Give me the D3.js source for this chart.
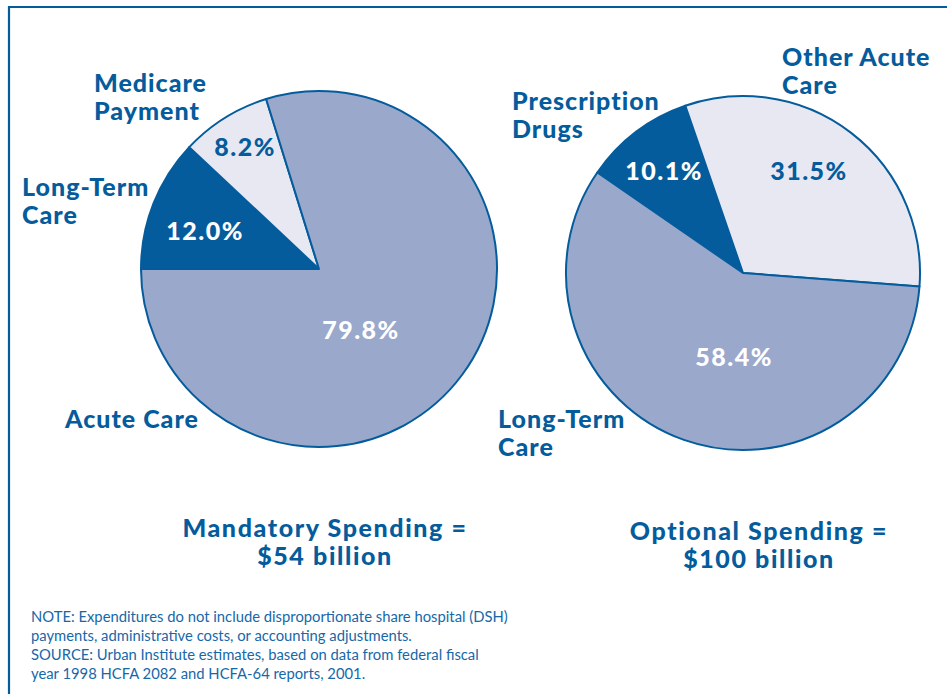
<!DOCTYPE html>
<html>
<head>
<meta charset="utf-8">
<script src="https://cdn.jsdelivr.net/npm/d3@7"></script>
<style>
  html, body { margin: 0; padding: 0; background: #ffffff; }
  svg { display: block; }
</style>
</head>
<body>
<svg id="chart" width="947" height="694"></svg>
<script>
// Medicaid spending shares, mandatory vs optional services
const mandatoryCategories = ["Long-Term Care", "Medicare Payment", "Acute Care"];
const mandatoryValues = [12.0, 8.2, 79.8];
const mandatoryTitle = ["Mandatory Spending =", "$54 billion"];

const optionalCategories = ["Prescription Drugs", "Other Acute Care", "Long-Term Care"];
const optionalValues = [10.1, 31.5, 58.4];
const optionalTitle = ["Optional Spending =", "$100 billion"];

const noteLines = [
  "NOTE: Expenditures do not include disproportionate share hospital (DSH)",
  "payments, administrative costs, or accounting adjustments.",
  "SOURCE: Urban Institute estimates, based on data from federal fiscal",
  "year 1998 HCFA 2082 and HCFA-64 reports, 2001."
];

// Styling
const DARK = "#045c9c";
const MID = "#9aa8cc";
const LIGHT = "#e8e8f3";
const FONT = "Lato, 'DejaVu Sans', sans-serif";

const svg = d3.select("#chart");

// frame
svg.append("path")
  .attr("d", "M9,700 L9,7 L960,7")
  .attr("fill", "none")
  .attr("stroke", DARK)
  .attr("stroke-width", 2.2);

function drawPie(cfg) {
  const pie = d3.pie().sort(null).value(d => d.value)
    .startAngle(cfg.start * Math.PI / 180)
    .endAngle(cfg.start * Math.PI / 180 + 2 * Math.PI);
  const arc = d3.arc().innerRadius(0).outerRadius(cfg.r);
  const data = cfg.categories.map((c, i) => ({ name: c, value: cfg.values[i] }));
  const g = svg.append("g").attr("transform", `translate(${cfg.cx},${cfg.cy})`);
  const arcs = pie(data);
  g.selectAll("path.slice").data(arcs).join("path")
    .attr("class", "slice")
    .attr("d", arc)
    .attr("fill", (d, i) => cfg.fills[i])
    .attr("stroke", DARK)
    .attr("stroke-width", 2)
    .attr("stroke-linejoin", "round");

  // value labels
  g.selectAll("text.val").data(arcs).join("text")
    .attr("class", "val")
    .attr("x", (d, i) => cfg.valPos[i][0] - cfg.cx)
    .attr("y", (d, i) => cfg.valPos[i][1] - cfg.cy)
    .attr("text-anchor", "middle")
    .attr("font-family", FONT)
    .attr("font-weight", 900)
    .attr("font-size", 25)
    .attr("letter-spacing", 1.5)
    .attr("fill", (d, i) => cfg.valColors[i])
    .text(d => d.data.value.toFixed(1) + "%");

  // category labels
  cfg.categories.forEach((c, i) => {
    const words = cfg.lines[i];
    const t = svg.append("text")
      .attr("x", cfg.catPos[i][0])
      .attr("y", cfg.catPos[i][1])
      .attr("font-family", FONT)
      .attr("font-weight", 900)
      .attr("font-size", 25)
      .attr("letter-spacing", 1)
      .attr("fill", DARK);
    words.forEach((w, k) => {
      t.append("tspan").attr("x", cfg.catPos[i][0]).attr("dy", k === 0 ? 0 : 28).text(w);
    });
  });

  // title
  const tt = svg.append("text")
    .attr("x", cfg.titlePos[0]).attr("y", cfg.titlePos[1])
    .attr("text-anchor", "middle")
    .attr("font-family", FONT)
    .attr("font-weight", 900)
    .attr("font-size", 25)
    .attr("letter-spacing", 1.6)
    .attr("fill", DARK);
  cfg.title.forEach((l, k) => {
    tt.append("tspan").attr("x", cfg.titlePos[0]).attr("dy", k === 0 ? 0 : 28).text(l);
  });
}

drawPie({
  cx: 319, cy: 269, r: 178, start: -90,
  categories: mandatoryCategories, values: mandatoryValues,
  fills: [DARK, LIGHT, MID],
  valColors: ["#ffffff", DARK, "#ffffff"],
  valPos: [[205, 240], [245, 156], [361, 339]],
  lines: [["Long-Term", "Care"], ["Medicare", "Payment"], ["Acute Care"]],
  catPos: [[22, 196], [94, 92], [65, 428]],
  title: mandatoryTitle, titlePos: [325, 537]
});

drawPie({
  cx: 743, cy: 273, r: 177, start: -55.4,
  categories: optionalCategories, values: optionalValues,
  fills: [DARK, LIGHT, MID],
  valColors: ["#ffffff", DARK, "#ffffff"],
  valPos: [[664, 180], [809, 180], [734, 366]],
  lines: [["Prescription", "Drugs"], ["Other Acute", "Care"], ["Long-Term", "Care"]],
  catPos: [[512, 110], [782, 66], [498, 428]],
  title: optionalTitle, titlePos: [759, 540]
});

// footnote
const note = svg.append("text")
  .attr("x", 31).attr("y", 622)
  .attr("font-family", FONT)
  .attr("font-size", 14.8)
  .attr("fill", "#1668a8");
noteLines.forEach((l, k) => {
  note.append("tspan").attr("x", 31).attr("dy", k === 0 ? 0 : 19).text(l);
});
</script>
</body>
</html>
